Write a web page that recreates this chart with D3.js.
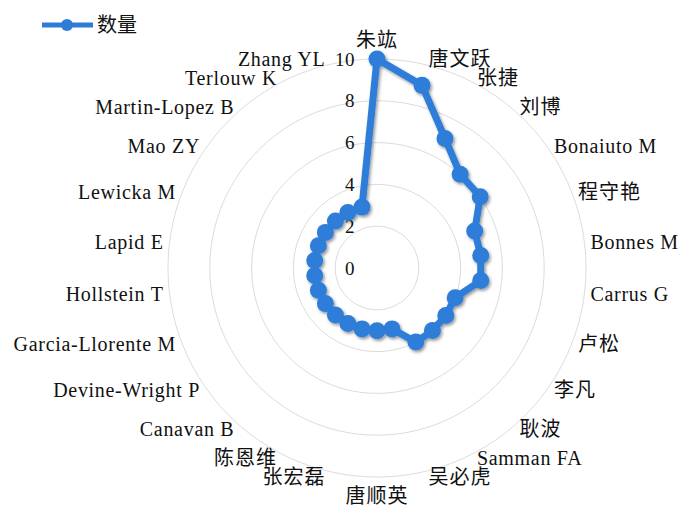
<!DOCTYPE html>
<html>
<head>
    <meta charset="utf-8">
    <title>数量 radar</title>
    <script src="https://d3js.org/d3.v7.min.js"></script>
    <style>
        body { margin: 0; background: #fff; }
        text { font-family: "Liberation Serif", "Noto Sans CJK SC", serif; fill: #111; }
    </style>
</head>
<body>
<script>
    var width = 682, height = 508;

    // data
    var authors = ["朱竑", "唐文跃", "张捷", "刘博", "Bonaiuto M", "程守艳", "Bonnes M", "Carrus G",
        "卢松", "李凡", "耿波", "Samman FA", "吴必虎", "唐顺英", "张宏磊", "陈恩维",
        "Canavan B", "Devine-Wright P", "Garcia-Llorente M", "Hollstein T", "Lapid E",
        "Lewicka M", "Mao ZY", "Martin-Lopez B", "Terlouw K", "Zhang YL"];
    var counts = [10, 9, 7, 6, 6, 5, 5, 5, 4, 4, 4, 4, 3, 3, 3, 3, 3, 3, 3, 3, 3, 3, 3, 3, 3, 3];
    var ticks = [0, 2, 4, 6, 8, 10];
    var seriesName = "数量";

    var cx = 377, cy = 268, R = 209;
    var blue = "#2d7dd8";

    var svg = d3.select("body").append("svg")
        .attr("width", width)
        .attr("height", height);

    var defs = svg.append("defs");
    var shadow = defs.append("filter").attr("id", "shadow")
        .attr("x", "-20%").attr("y", "-20%").attr("width", "140%").attr("height", "140%");
    shadow.append("feDropShadow")
        .attr("dx", 1.5).attr("dy", 2).attr("stdDeviation", 1.5)
        .attr("flood-color", "#000").attr("flood-opacity", 0.4);

    var r = d3.scaleLinear().domain([0, 10]).range([0, R]);
    var angle = d3.scalePoint().domain(authors).range([0, 2 * Math.PI * (authors.length - 1) / authors.length]);

    function px(a, rad) { return cx + rad * Math.sin(a); }
    function py(a, rad) { return cy - rad * Math.cos(a); }

    // grid rings, one per tick above 0
    var g = svg.append("g");
    ticks.filter(function(t) { return t > 0; }).forEach(function(t) {
        var pts = authors.map(function(a) { return [px(angle(a), r(t)), py(angle(a), r(t))]; });
        g.append("path")
            .attr("d", d3.line().curve(d3.curveCardinalClosed.tension(0))(pts))
            .attr("fill", "none")
            .attr("stroke", "#dcdcdc")
            .attr("stroke-width", 1);
    });

    // value axis labels
    g.selectAll(".tick").data(ticks).enter().append("text")
        .attr("x", cx - 22)
        .attr("y", function(d) { return cy - r(d); })
        .attr("dy", "0.35em")
        .attr("text-anchor", "end")
        .attr("font-size", 19)
        .attr("letter-spacing", 0.5)
        .text(function(d) { return d; });

    // category labels
    var labR = 215;
    g.selectAll(".cat").data(authors).enter().append("text")
        .attr("x", function(d) { return px(angle(d), labR); })
        .attr("y", function(d) { return py(angle(d), labR); })
        .attr("font-size", 20)
        .attr("letter-spacing", function(d) { return /[\u4e00-\u9fff]/.test(d) ? 1 : 0.7; })
        .attr("text-anchor", function(d) {
            var s = Math.sin(angle(d));
            return Math.abs(s) < 0.01 ? "middle" : (s > 0 ? "start" : "end");
        })
        .attr("dy", function(d) {
            var c = Math.cos(angle(d)), s = Math.sin(angle(d));
            if (Math.abs(s) < 0.01) return c > 0 ? "-0.3em" : "1.0em";
            return "0.35em";
        })
        .text(function(d) { return d; });

    // series
    var line = d3.lineRadial()
        .angle(function(d) { return angle(d.name); })
        .radius(function(d) { return r(d.value); })
        .curve(d3.curveLinearClosed);
    var data = authors.map(function(a, i) { return { name: a, value: counts[i] }; });

    var s = svg.append("g").attr("transform", "translate(" + cx + "," + cy + ")")
        .attr("filter", "url(#shadow)");
    s.append("path")
        .attr("d", line(data))
        .attr("fill", "none")
        .attr("stroke", blue)
        .attr("stroke-width", 7)
        .attr("stroke-linejoin", "round");
    s.selectAll("circle").data(data).enter().append("circle")
        .attr("cx", function(d) { return r(d.value) * Math.sin(angle(d.name)); })
        .attr("cy", function(d) { return -r(d.value) * Math.cos(angle(d.name)); })
        .attr("r", 8.5)
        .attr("fill", blue);

    // legend
    var lg = svg.append("g");
    lg.append("line").attr("x1", 42).attr("x2", 93).attr("y1", 25).attr("y2", 25)
        .attr("stroke", blue).attr("stroke-width", 5);
    lg.append("circle").attr("cx", 67).attr("cy", 25).attr("r", 6).attr("fill", blue);
    lg.append("text").attr("x", 97).attr("y", 25).attr("dy", "0.35em")
        .attr("font-size", 20).text(seriesName);
</script>
</body>
</html>
